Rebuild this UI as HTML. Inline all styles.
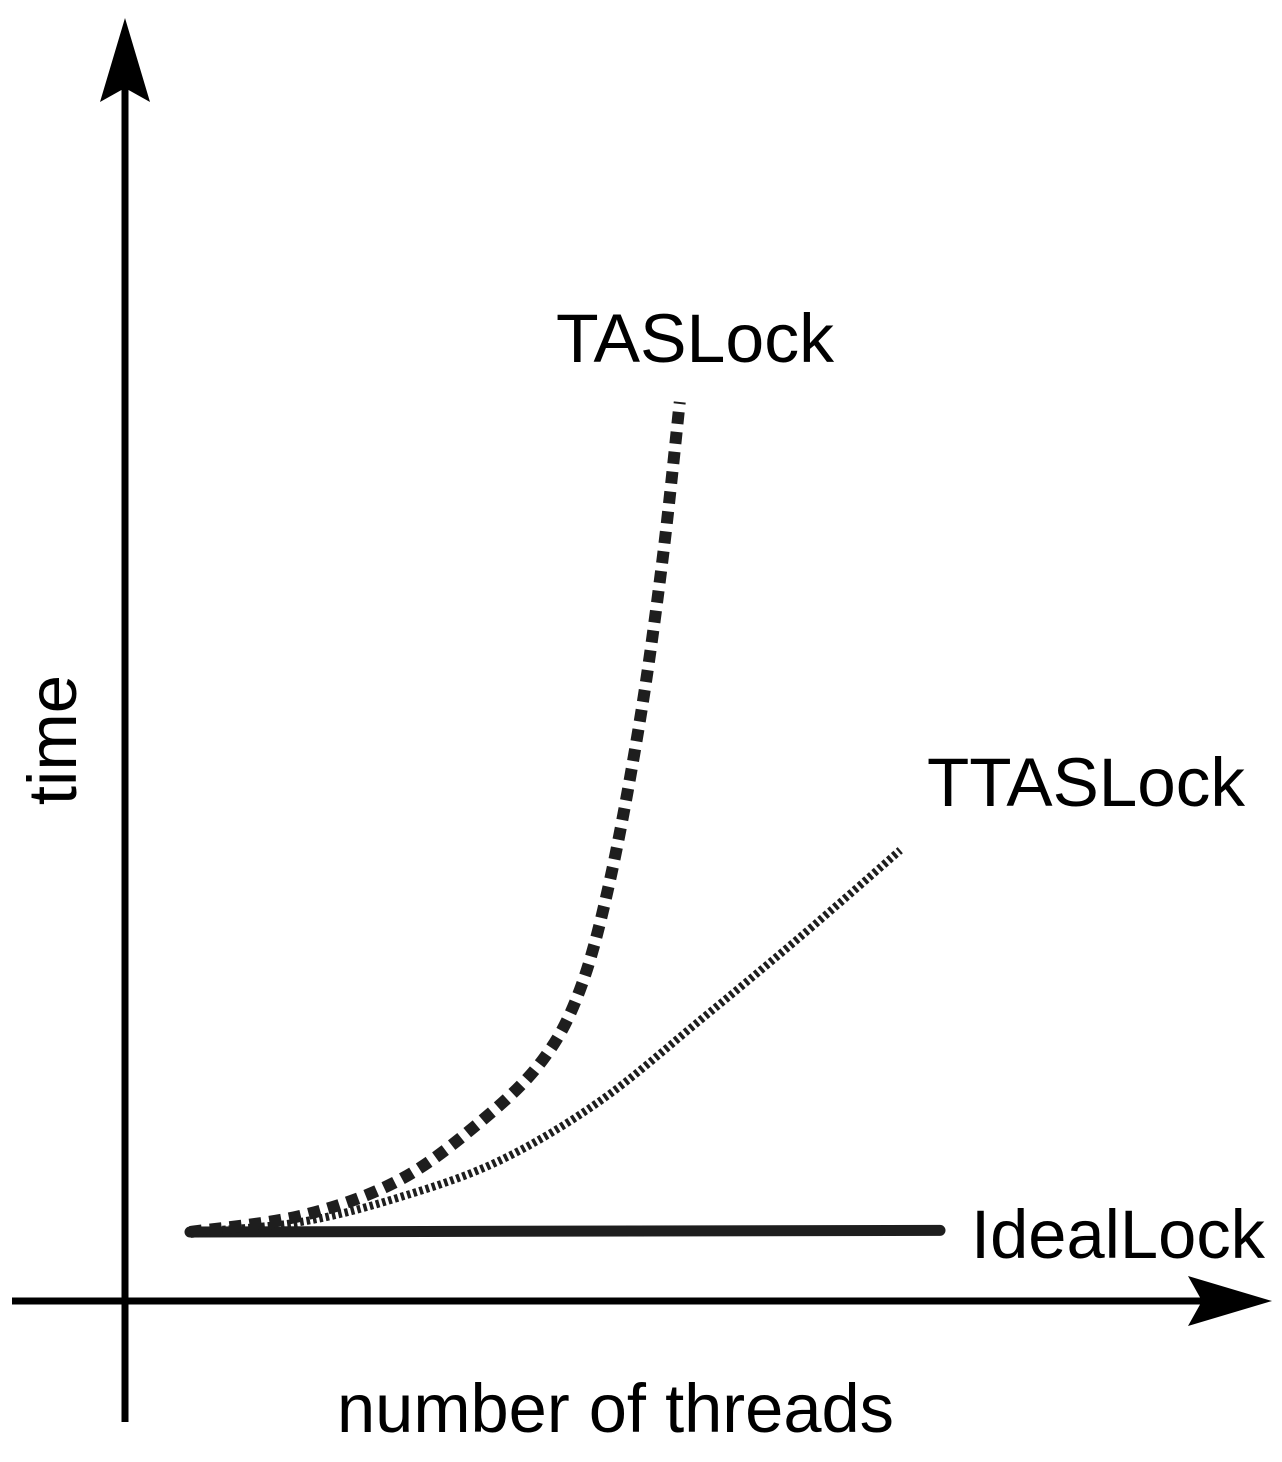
<!DOCTYPE html>
<html><head><meta charset="utf-8"><style>
html,body{margin:0;padding:0;background:#fff;}
svg{display:block;}
text{font-family:"Liberation Sans",Arial,sans-serif;font-size:69px;fill:#000;}
</style></head><body>
<svg id="chart" width="1282" height="1462" viewBox="0 0 1282 1462">
<g>
<line x1="125" y1="1422" x2="125" y2="80" stroke="#000" stroke-width="7"/>
<polygon points="125,18 100,102 125,88 150,102" fill="#000"/>
<line x1="12" y1="1301" x2="1210" y2="1301" stroke="#000" stroke-width="7"/>
<polygon points="1272,1301 1188,1276 1202,1301 1188,1326" fill="#000"/>
</g>
<g id="series"></g>
<text x="556" y="362" textLength="278" lengthAdjust="spacingAndGlyphs">TASLock</text>
<text x="927" y="806" textLength="318" lengthAdjust="spacingAndGlyphs">TTASLock</text>
<text x="971" y="1258" textLength="294" lengthAdjust="spacingAndGlyphs">IdealLock</text>
<text x="337" y="1432" textLength="557" lengthAdjust="spacingAndGlyphs">number of threads</text>
<text transform="translate(76,740) rotate(-90)" text-anchor="middle">time</text>
</svg>
<script>
const tasThreads = [0, 15, 28, 39, 47, 52, 56, 60, 63, 65.3];
const tasTime = [0, 2, 6.3, 13.5, 20.7, 29.2, 42.4, 61.7, 81, 100];
const ttasThreads = [0, 14.7, 28, 41.3, 54.7, 68, 81.3, 94.7];
const ttasTime = [0, 1.2, 4.2, 8.6, 15.8, 25.5, 35.5, 46];
const idealThreads = [0, 100];
const idealTime = [0, 0.2];

function xs(t){ return 190 + t*7.5; }
function ys(v){ return 1232 - v*8.3; }
function pathFor(tx, ty){
  const p = tx.map((t,i)=>[xs(t), ys(ty[i])]);
  let d = 'M'+p[0][0]+','+p[0][1];
  for(let i=0;i<p.length-1;i++){
    const p0=p[Math.max(i-1,0)], p1=p[i], p2=p[i+1], p3=p[Math.min(i+2,p.length-1)];
    const c1=[p1[0]+(p2[0]-p0[0])/6, p1[1]+(p2[1]-p0[1])/6];
    const c2=[p2[0]-(p3[0]-p1[0])/6, p2[1]-(p3[1]-p1[1])/6];
    d+=' C'+c1[0]+','+c1[1]+' '+c2[0]+','+c2[1]+' '+p2[0]+','+p2[1];
  }
  return d;
}
const g = document.getElementById('series');
const NS = 'http://www.w3.org/2000/svg';
function add(tx, ty, w, dash, cap){
  const el = document.createElementNS(NS,'path');
  el.setAttribute('d', pathFor(tx, ty));
  el.setAttribute('fill','none');
  el.setAttribute('stroke','#1e1e1e');
  el.setAttribute('stroke-width', w);
  if(dash) el.setAttribute('stroke-dasharray', dash);
  el.setAttribute('stroke-linecap', cap);
  g.appendChild(el);
  return el;
}
const ideal = add(idealThreads, idealTime, 11, null, 'round');


const ttas = add(ttasThreads, ttasTime, 8, '3.5 3', 'butt');


const tas = add(tasThreads, tasTime, 12, '12 8', 'butt');


</script>
</body></html>
